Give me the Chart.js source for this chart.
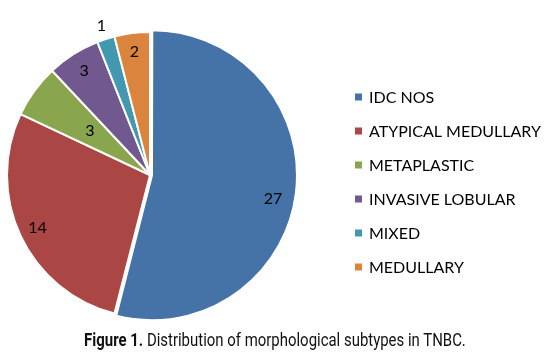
<!DOCTYPE html>
<html>
<head>
<meta charset="utf-8">
<script src="https://cdn.jsdelivr.net/npm/chart.js@4.4.1/dist/chart.umd.min.js"></script>
<style>
  html, body { margin: 0; padding: 0; background: #ffffff; }
  #wrap { position: relative; width: 549px; height: 356px; overflow: hidden; }
  #chart { position: absolute; left: 0; top: 0; }
  #caption { position: absolute; left: 0; width: 549px; top: 329px; text-align: center;
    font-family: "Roboto", "Liberation Sans", sans-serif; font-size: 18px; color: #111; white-space: nowrap; }
  #caption span { display: inline-block; transform: scaleX(0.83); transform-origin: center; }
  #caption b { font-weight: bold; }
</style>
</head>
<body>
<div id="wrap">
  <canvas id="chart" width="549" height="356"></canvas>
  <div id="caption"><span><b>Figure 1.</b> Distribution of morphological subtypes in TNBC.</span></div>
</div>
<script>
const categories = ["IDC NOS", "ATYPICAL MEDULLARY", "METAPLASTIC", "INVASIVE LOBULAR", "MIXED", "MEDULLARY"];
const counts = [27, 14, 3, 3, 1, 2];
const colors = ["#4572A7", "#AA4643", "#89A54E", "#71588F", "#4198AF", "#DB843D"];
const sliceOffsets = [8, 0, 0, 0, 0, 0];
// label placement: fraction of radius along slice mid-angle, plus angular tweak (deg)
const labelRadius = [0.82, 0.87, 0.52, 0.86, 1.1, 0.87];
const labelAngleTweak = [4, 0, 0, 0, 0, 0];

const labelFont = '16px "Lato", "Open Sans", sans-serif';
const legendFont = '16px "Lato", "Open Sans", sans-serif';

const overlay = {
  id: 'overlay',
  afterDatasetsDraw(chart) {
    const ctx = chart.ctx;
    const meta = chart.getDatasetMeta(0);
    ctx.save();
    ctx.fillStyle = '#000';
    ctx.font = labelFont;
    ctx.textAlign = 'center';
    ctx.textBaseline = 'middle';
    meta.data.forEach((arc, i) => {
      const p = arc.getProps(['x', 'y', 'startAngle', 'endAngle', 'outerRadius'], true);
      const mid = (p.startAngle + p.endAngle) / 2 + labelAngleTweak[i] * Math.PI / 180;
      const r = p.outerRadius * labelRadius[i];
      const off = sliceOffsets[i];
      const cm = (p.startAngle + p.endAngle) / 2;
      const x = p.x + Math.cos(cm) * off + Math.cos(mid) * r;
      const y = p.y + Math.sin(cm) * off + Math.sin(mid) * r;
      ctx.fillText(String(counts[i]), x, y);
    });
    // legend
    const lx = 355, ly0 = 97, step = 34, box = 7;
    ctx.font = legendFont;
    ctx.textAlign = 'left';
    categories.forEach((c, i) => {
      const y = ly0 + i * step;
      ctx.fillStyle = colors[i];
      ctx.fillRect(lx, y - box / 2, box, box);
      ctx.fillStyle = '#000';
      ctx.fillText(c, lx + 14, y + 1);
    });
    ctx.restore();
  }
};

new Chart(document.getElementById('chart'), {
  type: 'pie',
  data: {
    labels: categories,
    datasets: [{
      data: counts,
      backgroundColor: colors,
      borderColor: '#ffffff',
      borderWidth: 2,
      offset: sliceOffsets,
      radius: 143
    }]
  },
  options: {
    responsive: false,
    animation: false,
    events: [],
    layout: { padding: { left: 0, top: 26, right: 249, bottom: 32 } },
    plugins: { legend: { display: false }, tooltip: { enabled: false } }
  },
  plugins: [overlay]
});
</script>
</body>
</html>
